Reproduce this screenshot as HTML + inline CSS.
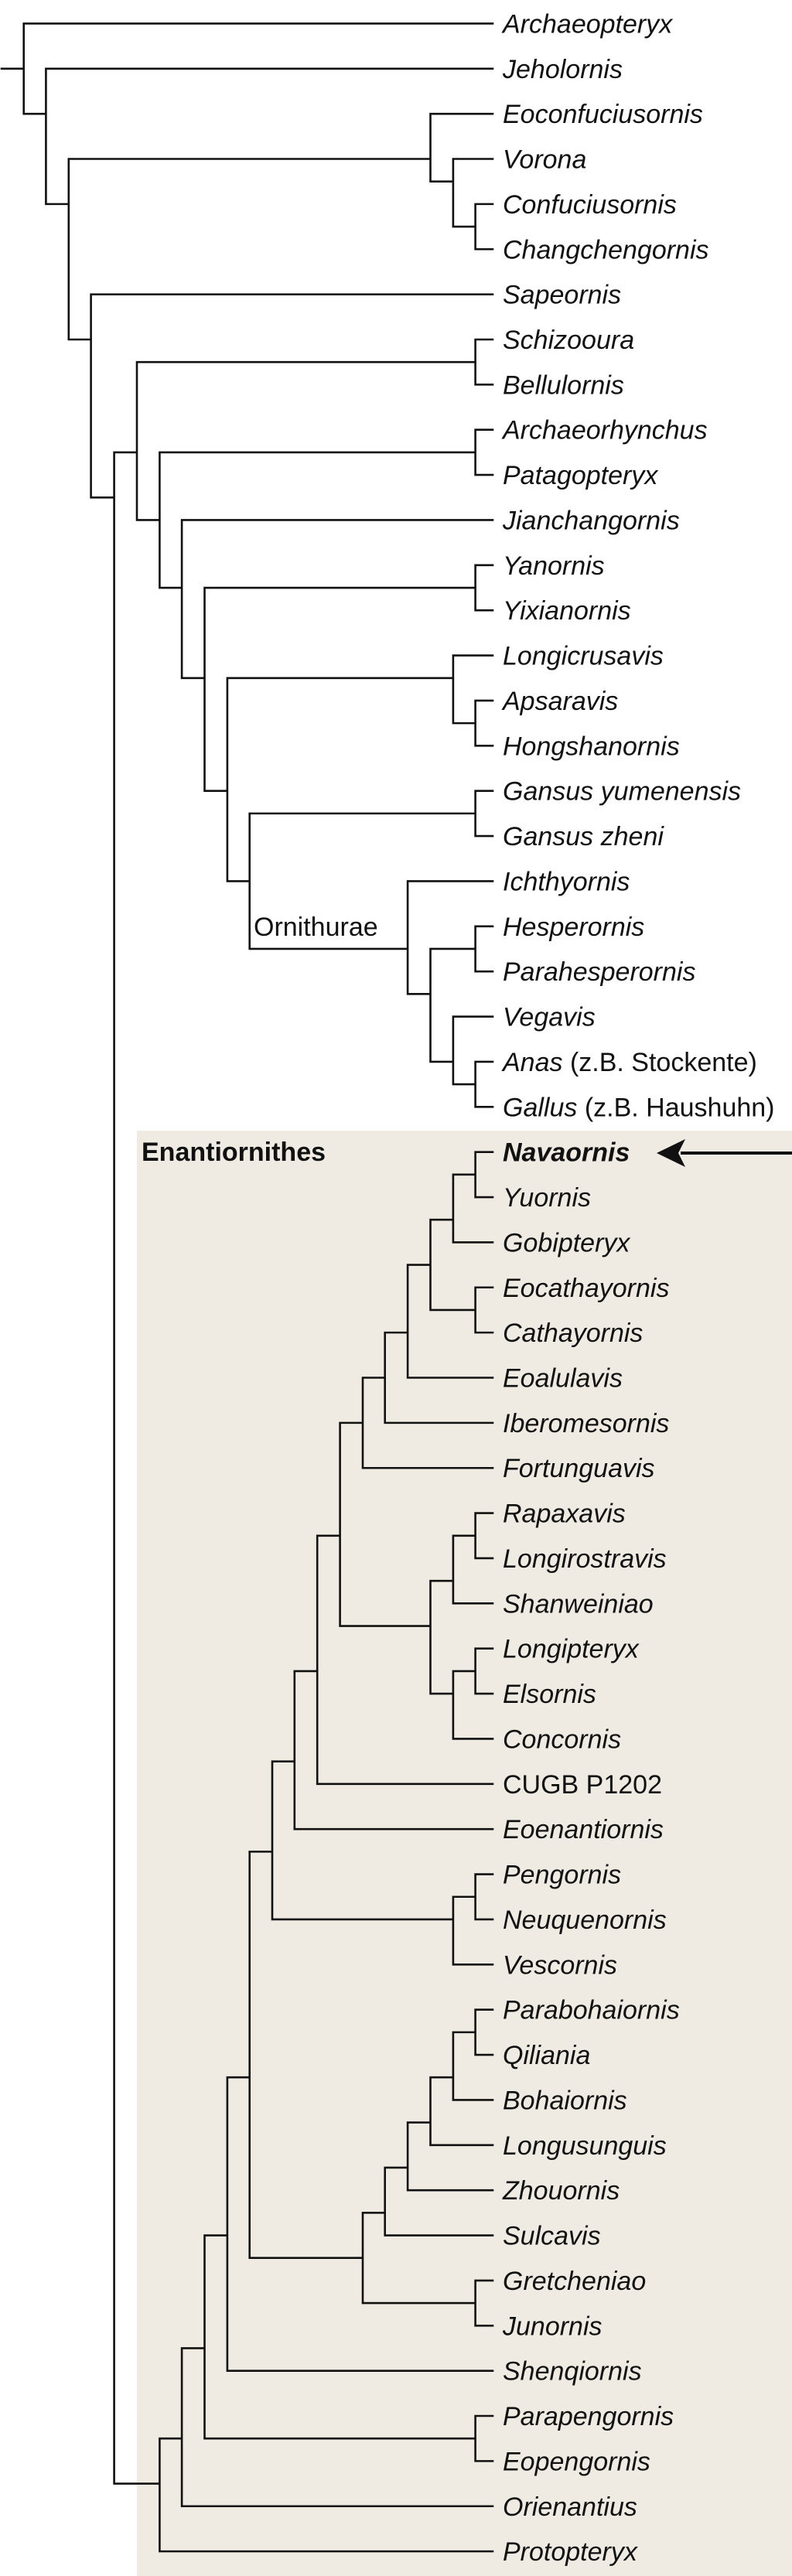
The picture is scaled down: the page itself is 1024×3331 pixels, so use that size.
<!DOCTYPE html>
<html><head><meta charset="utf-8"><style>
html,body{margin:0;padding:0;background:#fff}
svg{display:block}
text{font-family:"Liberation Sans",Arial,sans-serif;font-size:34px;fill:#111}
.i{font-style:italic}
</style></head><body>
<svg width="1024" height="3331" viewBox="0 0 1024 3331" xmlns="http://www.w3.org/2000/svg">
<rect x="177" y="1462" width="847" height="1869" fill="#efebe2"/>
<g transform="translate(0,30.4) scale(1,58.37)" fill="none" stroke="#111" stroke-width="2.6" stroke-linecap="square">
<path vector-effect="non-scaling-stroke" d="
M2,1H30.7 M30.7,0V2 M30.7,0H637 M30.7,2H59.4
M59.4,1V4 M59.4,1H637 M59.4,4H88.8
M88.8,3V7 M88.8,3H556.5 M88.8,7H117.6
M556.5,2V3.5 M556.5,2H637 M556.5,3.5H585.9
M585.9,3V4.5 M585.9,3H637 M585.9,4.5H614.6
M614.6,4V5 M614.6,4H637 M614.6,5H637
M117.6,6V10.5 M117.6,6H637 M117.6,10.5H147.6
M147.6,9.5V54.5 M147.6,9.5H177 M147.6,54.5H206.4
M177,7.5V11 M177,7.5H614.6 M177,11H206.4
M614.6,7V8 M614.6,7H637 M614.6,8H637
M206.4,9.5V12.5 M206.4,9.5H614.6 M206.4,12.5H235.1
M614.6,9V10 M614.6,9H637 M614.6,10H637
M235.1,11V14.5 M235.1,11H637 M235.1,14.5H264.5
M264.5,12.5V17 M264.5,12.5H614.6 M264.5,17H293.9
M614.6,12V13 M614.6,12H637 M614.6,13H637
M293.9,14.5V19 M293.9,14.5H585.9 M293.9,19H322.7
M585.9,14V15.5 M585.9,14H637 M585.9,15.5H614.6
M614.6,15V16 M614.6,15H637 M614.6,16H637
M322.7,17.5V20.5 M322.7,17.5H614.6 M322.7,20.5H527.1
M614.6,17V18 M614.6,17H637 M614.6,18H637
M527.1,19V21.5 M527.1,19H637 M527.1,21.5H556.5
M556.5,20.5V23 M556.5,20.5H614.6 M556.5,23H585.9
M614.6,20V21 M614.6,20H637 M614.6,21H637
M585.9,22V23.5 M585.9,22H637 M585.9,23.5H614.6
M614.6,23V24 M614.6,23H637 M614.6,24H637

M206.4,53.5V56 M206.4,53.5H235.1 M206.4,56H637
M235.1,51.5V55 M235.1,51.5H264.5 M235.1,55H637
M264.5,49V53.5 M264.5,49H293.9 M264.5,53.5H614.6
M614.6,53V54 M614.6,53H637 M614.6,54H637
M293.9,45.5V52 M293.9,45.5H322.7 M293.9,52H637
M322.7,40.5V49.5 M322.7,40.5H352 M322.7,49.5H469
M352,38.5V42 M352,38.5H380.8 M352,42H585.9
M585.9,41.5V43 M585.9,41.5H614.6 M585.9,43H637
M614.6,41V42 M614.6,41H637 M614.6,42H637
M380.8,36.5V40 M380.8,36.5H410.2 M380.8,40H637
M410.2,33.5V39 M410.2,33.5H439.6 M410.2,39H637
M439.6,31V35.5 M439.6,31H469 M439.6,35.5H556.5
M556.5,34.5V37 M556.5,34.5H585.9 M556.5,37H585.9
M585.9,33.5V35 M585.9,33.5H614.6 M585.9,35H637
M614.6,33V34 M614.6,33H637 M614.6,34H637
M585.9,36.5V38 M585.9,36.5H614.6 M585.9,38H637
M614.6,36V37 M614.6,36H637 M614.6,37H637
M469,30V32 M469,30H497.7 M469,32H637
M497.7,29V31 M497.7,29H527.1 M497.7,31H637
M527.1,27.5V30 M527.1,27.5H556.5 M527.1,30H637
M556.5,26.5V28.5 M556.5,26.5H585.9 M556.5,28.5H614.6
M614.6,28V29 M614.6,28H637 M614.6,29H637
M585.9,25.5V27 M585.9,25.5H614.6 M585.9,27H637
M614.6,25V26 M614.6,25H637 M614.6,26H637
M469,48.5V50.5 M469,48.5H497.7 M469,50.5H614.6
M614.6,50V51 M614.6,50H637 M614.6,51H637
M497.7,47.5V49 M497.7,47.5H527.1 M497.7,49H637
M527.1,46.5V48 M527.1,46.5H556.5 M527.1,48H637
M556.5,45.5V47 M556.5,45.5H585.9 M556.5,47H637
M585.9,44.5V46 M585.9,44.5H614.6 M585.9,46H637
M614.6,44V45 M614.6,44H637 M614.6,45H637
"/>
</g>
<line x1="880" y1="1491" x2="1024" y2="1491" stroke="#111" stroke-width="4"/>
<polygon points="849,1491 886,1473 877,1491 886,1509" fill="#111"/>
<text x="328" y="1210">Ornithurae</text>
<text x="183" y="1501" font-weight="bold">Enantiornithes</text>
<g>
<text class="i" x="650" y="42.4">Archaeopteryx</text>
<text class="i" x="650" y="100.8">Jeholornis</text>
<text class="i" x="650" y="159.1">Eoconfuciusornis</text>
<text class="i" x="650" y="217.5">Vorona</text>
<text class="i" x="650" y="275.9">Confuciusornis</text>
<text class="i" x="650" y="334.3">Changchengornis</text>
<text class="i" x="650" y="392.6">Sapeornis</text>
<text class="i" x="650" y="451.0">Schizooura</text>
<text class="i" x="650" y="509.4">Bellulornis</text>
<text class="i" x="650" y="567.7">Archaeorhynchus</text>
<text class="i" x="650" y="626.1">Patagopteryx</text>
<text class="i" x="650" y="684.5">Jianchangornis</text>
<text class="i" x="650" y="742.8">Yanornis</text>
<text class="i" x="650" y="801.2">Yixianornis</text>
<text class="i" x="650" y="859.6">Longicrusavis</text>
<text class="i" x="650" y="918.0">Apsaravis</text>
<text class="i" x="650" y="976.3">Hongshanornis</text>
<text class="i" x="650" y="1034.7">Gansus yumenensis</text>
<text class="i" x="650" y="1093.1">Gansus zheni</text>
<text class="i" x="650" y="1151.4">Ichthyornis</text>
<text class="i" x="650" y="1209.8">Hesperornis</text>
<text class="i" x="650" y="1268.2">Parahesperornis</text>
<text class="i" x="650" y="1326.5">Vegavis</text>
<text x="650" y="1384.9"><tspan class="i">Anas</tspan> (z.B. Stockente)</text>
<text x="650" y="1443.3"><tspan class="i">Gallus</tspan> (z.B. Haushuhn)</text>
<text class="i" x="650" y="1501.7" font-weight="bold">Navaornis</text>
<text class="i" x="650" y="1560.0">Yuornis</text>
<text class="i" x="650" y="1618.4">Gobipteryx</text>
<text class="i" x="650" y="1676.8">Eocathayornis</text>
<text class="i" x="650" y="1735.1">Cathayornis</text>
<text class="i" x="650" y="1793.5">Eoalulavis</text>
<text class="i" x="650" y="1851.9">Iberomesornis</text>
<text class="i" x="650" y="1910.2">Fortunguavis</text>
<text class="i" x="650" y="1968.6">Rapaxavis</text>
<text class="i" x="650" y="2027.0">Longirostravis</text>
<text class="i" x="650" y="2085.4">Shanweiniao</text>
<text class="i" x="650" y="2143.7">Longipteryx</text>
<text class="i" x="650" y="2202.1">Elsornis</text>
<text class="i" x="650" y="2260.5">Concornis</text>
<text x="650" y="2318.8">CUGB P1202</text>
<text class="i" x="650" y="2377.2">Eoenantiornis</text>
<text class="i" x="650" y="2435.6">Pengornis</text>
<text class="i" x="650" y="2493.9">Neuquenornis</text>
<text class="i" x="650" y="2552.3">Vescornis</text>
<text class="i" x="650" y="2610.7">Parabohaiornis</text>
<text class="i" x="650" y="2669.1">Qiliania</text>
<text class="i" x="650" y="2727.4">Bohaiornis</text>
<text class="i" x="650" y="2785.8">Longusunguis</text>
<text class="i" x="650" y="2844.2">Zhouornis</text>
<text class="i" x="650" y="2902.5">Sulcavis</text>
<text class="i" x="650" y="2960.9">Gretcheniao</text>
<text class="i" x="650" y="3019.3">Junornis</text>
<text class="i" x="650" y="3077.6">Shenqiornis</text>
<text class="i" x="650" y="3136.0">Parapengornis</text>
<text class="i" x="650" y="3194.4">Eopengornis</text>
<text class="i" x="650" y="3252.8">Orienantius</text>
<text class="i" x="650" y="3311.1">Protopteryx</text>
</g>
</svg>
</body></html>
